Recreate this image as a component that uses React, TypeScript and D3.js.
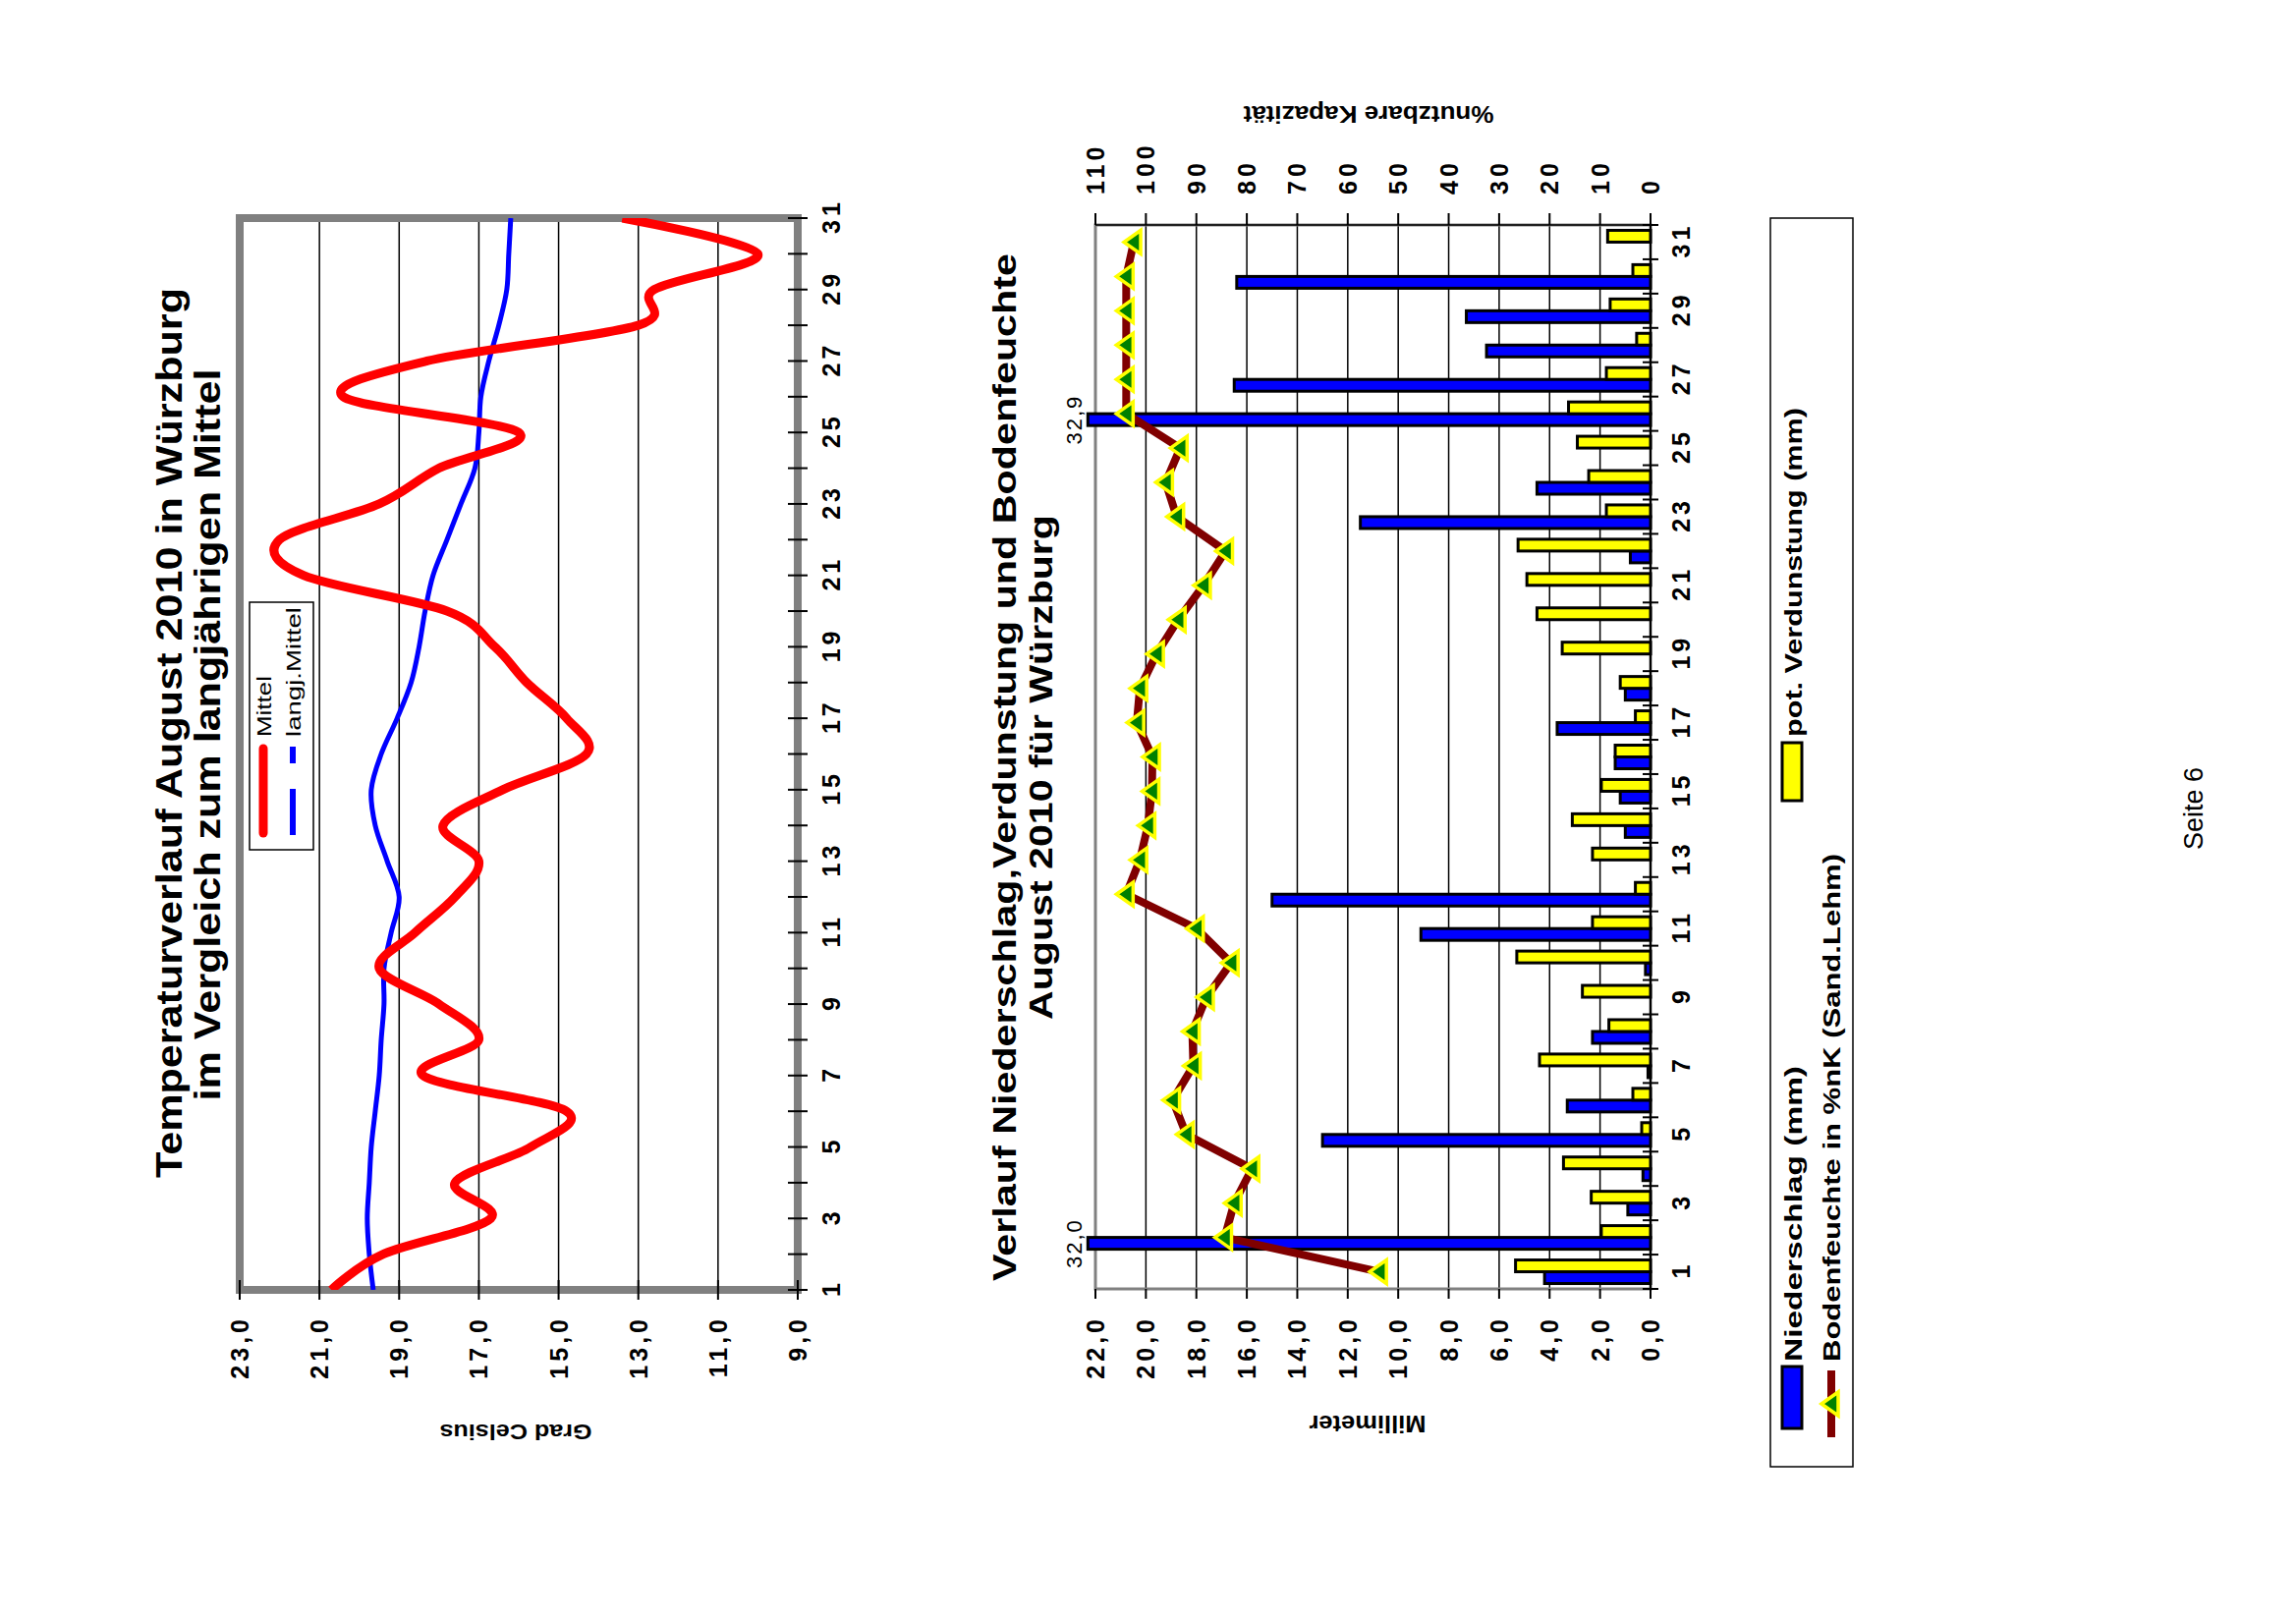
import React from 'react';
import * as d3 from 'd3';

// Daily values, August 2010, Würzburg
const days = [1, 2, 3, 4, 5, 6, 7, 8, 9, 10, 11, 12, 13, 14, 15, 16, 17, 18, 19, 20, 21, 22, 23, 24, 25, 26, 27, 28, 29, 30, 31];
const dayLabels = [1, 3, 5, 7, 9, 11, 13, 15, 17, 19, 21, 23, 25, 27, 29, 31];

const tempMittel = [20.7, 19.4, 16.7, 17.6, 15.7, 14.8, 18.4, 17.0, 18.0, 19.5, 18.6, 17.6, 17.0, 17.9, 16.4, 14.3, 14.8, 15.8, 16.6, 17.8, 21.4, 22.0, 19.5, 18.0, 16.0, 20.4, 18.3, 13.0, 12.6, 10.0, 13.4];
const tempLangj = [19.65, 19.75, 19.8, 19.75, 19.7, 19.6, 19.5, 19.45, 19.38, 19.38, 19.2, 19.0, 19.3, 19.6, 19.7, 19.45, 19.05, 18.7, 18.5, 18.35, 18.15, 17.8, 17.45, 17.1, 17.0, 16.95, 16.75, 16.5, 16.3, 16.25, 16.2];
const tempTicks = [23, 21, 19, 17, 15, 13, 11, 9];

const niederschlag = [4.2, 32.0, 0.9, 0.3, 13.0, 3.3, 0.1, 2.3, 0, 0.2, 9.1, 15.0, 0, 1.0, 1.2, 1.4, 3.7, 1.0, 0, 0, 0, 0.8, 11.5, 4.5, 0, 32.9, 16.5, 6.5, 7.3, 16.4, 0];
const verdunstung = [5.35, 1.95, 2.35, 3.45, 0.35, 0.7, 4.4, 1.65, 2.7, 5.3, 2.3, 0.6, 2.3, 3.1, 1.95, 1.4, 0.6, 1.2, 3.5, 4.5, 4.9, 5.25, 1.75, 2.45, 2.9, 3.25, 1.75, 0.55, 1.6, 0.7, 1.7];
const bodenfeuchte = [53.7, 84.4, 82.5, 79.0, 92.0, 94.7, 90.6, 90.8, 88.0, 83.1, 90.0, 103.9, 101.2, 99.6, 98.8, 98.7, 101.8, 101.2, 97.9, 93.6, 88.6, 84.2, 93.9, 96.1, 93.2, 103.9, 103.9, 103.9, 103.9, 103.9, 102.4];
const mmTicks = [22, 20, 18, 16, 14, 12, 10, 8, 6, 4, 2, 0];
const pctTicks = [110, 100, 90, 80, 70, 60, 50, 40, 30, 20, 10, 0];

const W = 2337;
const H = 1648;
const FONT = '"Liberation Sans", Arial, sans-serif';

// the printed page is rotated: everything below is laid out in page coordinates
const t = { left: 335, right: 1426, top: 244, bottom: 812 };
const xT = d3.scaleLinear().domain([1, 31]).range([t.left, t.right]);
const yT = d3.scaleLinear().domain([9, 23]).range([t.bottom, t.top]);

const b = { left: 336, right: 1419, top: 1115, bottom: 1680 };
const xB = d3.scaleBand<number>().domain(days).range([b.left, b.right]).padding(0);
const yMM = d3.scaleLinear().domain([0, 22]).range([b.bottom, b.top]);
const yPct = d3.scaleLinear().domain([0, 110]).range([b.bottom, b.top]);

const fmt1 = (v: number) => v.toFixed(1).replace('.', ',');
const tri = 'M0,-10L12,7L-12,7Z';

const App: React.FC = () => {
    const band = xB.bandwidth();
    const cx = (d: number) => (xB(d) as number) + band / 2;
    const bw = 12;

    const tempLine = d3.line<number>()
        .x((_, i) => xT(days[i]))
        .y(d => yT(d))
        .curve(d3.curveCardinal);

    const soilLine = d3.line<number>()
        .x((_, i) => cx(days[i]))
        .y(d => yPct(d));

    const tick = { fontFamily: FONT, fontWeight: 'bold' as const, fontSize: 25, letterSpacing: 4 };

    return (
        <svg width={W} height={H} style={{ position: 'absolute', left: 0, top: 0 }} fontFamily={FONT}>
            <rect width={W} height={H} fill="#fff" />
            <defs>
                <clipPath id="clipT">
                    <rect x={t.left} y={t.top} width={t.right - t.left} height={t.bottom - t.top} />
                </clipPath>
            </defs>
            <g transform={`translate(0,${H}) rotate(-90)`}>
                {/* ---------- Temperaturverlauf ---------- */}
                <text x={902} y={185} textAnchor="middle" fontWeight="bold" fontSize={37} textLength={906} lengthAdjust="spacingAndGlyphs">
                    Temperaturverlauf August 2010 in Würzburg
                </text>
                <text x={900} y={224} textAnchor="middle" fontWeight="bold" fontSize={37} textLength={745} lengthAdjust="spacingAndGlyphs">
                    im Vergleich zum langjährigen Mittel
                </text>

                {tempTicks.filter(v => v !== 23 && v !== 9).map(v => (
                    <line key={'gt' + v} x1={t.left} x2={t.right} y1={yT(v)} y2={yT(v)} stroke="#000" strokeWidth={1.5} />
                ))}
                <rect x={t.left} y={t.top} width={t.right - t.left} height={t.bottom - t.top} fill="none" stroke="#808080" strokeWidth={8} />

                {tempTicks.map(v => (
                    <g key={'yt' + v}>
                        <line x1={t.left - 10} x2={t.left + 10} y1={yT(v)} y2={yT(v)} stroke="#000" strokeWidth={2} />
                        <text x={309} y={yT(v)} textAnchor="end" dominantBaseline="central" {...tick}>{fmt1(v)}</text>
                    </g>
                ))}
                {days.map(d => (
                    <line key={'xt' + d} x1={xT(d)} x2={xT(d)} y1={t.bottom - 10} y2={t.bottom + 10} stroke="#000" strokeWidth={2} />
                ))}
                {dayLabels.map(d => (
                    <text key={'xl' + d} x={xT(d) + 2} y={846} textAnchor="middle" dominantBaseline="central" {...tick}>{d}</text>
                ))}
                <text transform={`translate(191,525) rotate(-90)`} textAnchor="middle" dominantBaseline="central" fontWeight="bold" fontSize={22} textLength={155} lengthAdjust="spacingAndGlyphs">
                    Grad Celsius
                </text>

                <g clipPath="url(#clipT)">
                    <path d={tempLine(tempLangj) as string} fill="none" stroke="#0000ff" strokeWidth={5} />
                    <path d={tempLine(tempMittel) as string} fill="none" stroke="#ff0000" strokeWidth={9} strokeLinejoin="round" />
                </g>

                <rect x={783} y={254} width={252} height={65} fill="#fff" stroke="#000" strokeWidth={1.5} />
                <line x1={800} x2={886} y1={268} y2={268} stroke="#ff0000" strokeWidth={9} strokeLinecap="round" />
                <line x1={798} x2={888} y1={298} y2={298} stroke="#0000ff" strokeWidth={6} strokeDasharray="47,26" />
                <text x={898} y={268} dominantBaseline="central" fontSize={21} textLength={62} lengthAdjust="spacingAndGlyphs">Mittel</text>
                <text x={898} y={298} dominantBaseline="central" fontSize={21} textLength={132} lengthAdjust="spacingAndGlyphs">langj.Mittel</text>

                {/* ---------- Niederschlag / Verdunstung / Bodenfeuchte ---------- */}
                <text x={867} y={1034} textAnchor="middle" fontWeight="bold" fontSize={34} textLength={1046} lengthAdjust="spacingAndGlyphs">
                    Verlauf Niederschlag,Verdunstung und Bodenfeuchte
                </text>
                <text x={867} y={1071} textAnchor="middle" fontWeight="bold" fontSize={34} textLength={514} lengthAdjust="spacingAndGlyphs">
                    August 2010 für Würzburg
                </text>

                {mmTicks.filter(v => v !== 0 && v !== 22).map(v => (
                    <line key={'gb' + v} x1={b.left} x2={b.right} y1={yMM(v)} y2={yMM(v)} stroke="#000" strokeWidth={1.5} />
                ))}
                <rect x={b.left} y={b.top} width={b.right - b.left} height={b.bottom - b.top} fill="none" stroke="#808080" strokeWidth={3} />

                {days.map((d, i) => (
                    <g key={'bar' + d}>
                        {niederschlag[i] > 0 && (
                            <rect x={cx(d) - bw} width={bw} y={yMM(Math.min(niederschlag[i], 22.3))}
                                height={b.bottom - yMM(Math.min(niederschlag[i], 22.3))}
                                fill="#0000ff" stroke="#000" strokeWidth={3} />
                        )}
                        {verdunstung[i] > 0 && (
                            <rect x={cx(d)} width={bw} y={yMM(verdunstung[i])} height={b.bottom - yMM(verdunstung[i])}
                                fill="#ffff00" stroke="#000" strokeWidth={3} />
                        )}
                        {niederschlag[i] > 22 && (
                            <text x={cx(d) - bw / 2} y={1101} textAnchor="middle" fontSize={22} letterSpacing={2}>{fmt1(niederschlag[i])}</text>
                        )}
                    </g>
                ))}

                <path d={soilLine(bodenfeuchte) as string} fill="none" stroke="#800000" strokeWidth={8} strokeLinejoin="round" />
                {days.map((d, i) => (
                    <path key={'m' + d} d={tri} transform={`translate(${cx(d)},${yPct(bodenfeuchte[i])})`}
                        fill="#008000" stroke="#ffff00" strokeWidth={3.5} />
                ))}

                {/* axes */}
                <line x1={b.left} x2={b.right} y1={b.bottom} y2={b.bottom} stroke="#000" strokeWidth={2} />
                {days.concat([32]).map((d, i) => (
                    <line key={'bt' + d} x1={b.left + i * band} x2={b.left + i * band} y1={b.bottom - 8} y2={b.bottom + 8} stroke="#000" strokeWidth={2} />
                ))}
                {dayLabels.map(d => (
                    <text key={'bl' + d} x={cx(d) + 2} y={1711} textAnchor="middle" dominantBaseline="central" {...tick}>{d}</text>
                ))}
                {mmTicks.map(v => (
                    <g key={'ml' + v}>
                        <line x1={b.left - 10} x2={b.left} y1={yMM(v)} y2={yMM(v)} stroke="#000" strokeWidth={2} />
                        <text x={309} y={yMM(v)} textAnchor="end" dominantBaseline="central" {...tick}>{fmt1(v)}</text>
                    </g>
                ))}
                <line x1={b.right} x2={b.right} y1={b.top} y2={b.bottom} stroke="#000" strokeWidth={1.5} />
                {pctTicks.map(v => (
                    <g key={'pl' + v}>
                        <line x1={b.right} x2={b.right + 12} y1={yPct(v)} y2={yPct(v)} stroke="#000" strokeWidth={2} />
                        <text x={1450} y={yPct(v)} textAnchor="start" dominantBaseline="central" {...tick}>{v}</text>
                    </g>
                ))}
                <text transform={`translate(199,1392) rotate(-90)`} textAnchor="middle" dominantBaseline="central" fontWeight="bold" fontSize={24} textLength={119} lengthAdjust="spacingAndGlyphs">
                    Millimeter
                </text>
                <text transform={`translate(1532,1393) rotate(-90)`} textAnchor="middle" dominantBaseline="central" fontWeight="bold" fontSize={24} textLength={255} lengthAdjust="spacingAndGlyphs">
                    %nutzbare Kapazität
                </text>

                {/* legend */}
                <rect x={155} y={1802} width={1271} height={84} fill="#fff" stroke="#000" strokeWidth={1.5} />
                <rect x={194} y={1814} width={63} height={20} fill="#0000ff" stroke="#000" strokeWidth={3} />
                <text x={262} y={1825} dominantBaseline="central" fontWeight="bold" fontSize={24} textLength={301} lengthAdjust="spacingAndGlyphs">
                    Niederschlag (mm)
                </text>
                <rect x={833} y={1814} width={59} height={20} fill="#ffff00" stroke="#000" strokeWidth={3} />
                <text x={898} y={1825} dominantBaseline="central" fontWeight="bold" fontSize={24} textLength={335} lengthAdjust="spacingAndGlyphs">
                    pot. Verdunstung (mm)
                </text>
                <line x1={185} x2={253} y1={1864} y2={1864} stroke="#800000" strokeWidth={8} />
                <path d={tri} transform="translate(219,1864)" fill="#008000" stroke="#ffff00" strokeWidth={3.5} />
                <text x={262} y={1864} dominantBaseline="central" fontWeight="bold" fontSize={24} textLength={517} lengthAdjust="spacingAndGlyphs">
                    Bodenfeuchte in %nK (Sand.Lehm)
                </text>

                <text x={825} y={2242} textAnchor="middle" fontSize={27}>Seite 6</text>
            </g>
        </svg>
    );
};

export default App;
